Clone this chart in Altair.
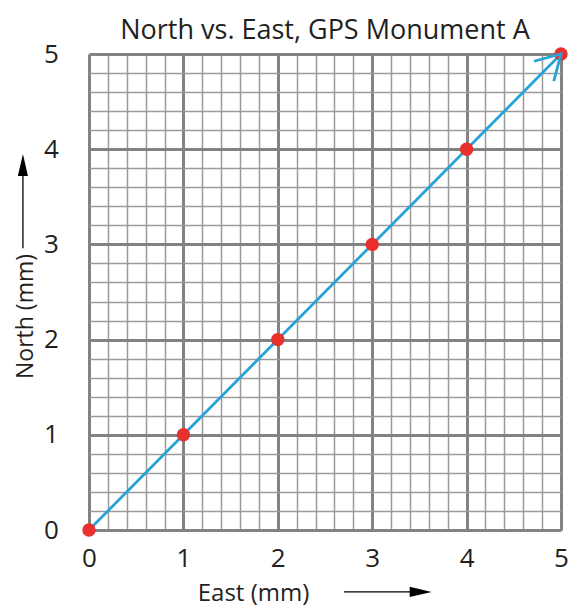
import altair as alt
import pandas as pd

# data
east = [0, 1, 2, 3, 4, 5]
north = [0, 1, 2, 3, 4, 5]

# tick positions (minor every 0.2, major every 1)
tick_values = [round(i * 0.2, 1) for i in range(26)]

# axis-title arrow annotations (in data units, outside the plot)
east_arrow_x = [2.70, 3.63]
east_arrow_y = [-0.65]
north_arrow_x = [-0.70]
north_arrow_y = [2.96, 3.95]

FONT = "Open Sans"
TXT = "#231f20"
is_int = "abs(datum.value - round(datum.value)) < 0.001"

grid_w = {"condition": {"test": is_int, "value": 3}, "value": 1.5}
grid_c = {"condition": {"test": is_int, "value": "#828282"}, "value": "#9a9a9a"}

xscale = alt.Scale(domain=[0, 5], nice=False, zero=False)
yscale = alt.Scale(domain=[0, 5], nice=False, zero=False)

xaxis = alt.Axis(
    values=tick_values, grid=True, gridWidth=grid_w, gridColor=grid_c, gridOpacity=1,
    ticks=False, domain=False,
    labelExpr=f"{is_int} ? format(datum.value, 'd') : ''",
    labelFont=FONT, labelFontSize=26, labelColor=TXT,
    labelBaseline="alphabetic", labelPadding=36, labelFlush=False, labelOverlap=False,
    title="East (mm)", titleFont=FONT, titleFontSize=24, titleFontWeight="normal",
    titleColor=TXT, titleX=164, titleY=70, titleBaseline="alphabetic", titleAlign="center",
)
yaxis = alt.Axis(
    values=tick_values, grid=True, gridWidth=grid_w, gridColor=grid_c, gridOpacity=1,
    ticks=False, domain=False,
    labelExpr=f"{is_int} ? format(datum.value, 'd') : ''",
    labelFont=FONT, labelFontSize=26, labelColor=TXT,
    labelAlign="center", labelBaseline="middle", labelPadding=38,
    labelFlush=False, labelOverlap=False,
    title="North (mm)", titleFont=FONT, titleFontSize=23, titleFontWeight="normal",
    titleColor=TXT, titleX=-57, titleY=262, titleAngle=-90,
    titleBaseline="alphabetic", titleAlign="center",
)

X = alt.X("east:Q", scale=xscale, axis=xaxis)
Y = alt.Y("north:Q", scale=yscale, axis=yaxis)

df = pd.DataFrame({"east": east, "north": north})

points = alt.Chart(df).mark_circle(size=180, color="#e8312f", opacity=1).encode(x=X, y=Y)
line = alt.Chart(df).mark_line(color="#27a3d9", strokeWidth=2.8).encode(x=X, y=Y)

head_df = pd.DataFrame({"east": [east[-1]], "north": [north[-1]]})
head = alt.Chart(head_df).mark_point(
    shape="M-0.5,0.866L0,0L0.5,0.866", size=3136, angle=45,
    filled=False, stroke="#27a3d9", strokeWidth=2.8, opacity=1,
).encode(x=X, y=Y)

# East arrow
ea_df = pd.DataFrame({"east": [east_arrow_x[0]], "east2": [east_arrow_x[1] - 0.15], "north": east_arrow_y})
ea_rule = alt.Chart(ea_df).mark_rule(color="black", strokeWidth=1.3).encode(x=X, x2="east2:Q", y=Y)
ea_head_df = pd.DataFrame({"east": [east_arrow_x[1]], "north": east_arrow_y})
ea_head = alt.Chart(ea_head_df).mark_point(
    shape="M0,0L-1,-0.23L-1,0.23Z", size=1936, filled=True, color="black", opacity=1,
    strokeWidth=0,
).encode(x=X, y=Y)

# North arrow
na_df = pd.DataFrame({"east": north_arrow_x, "north": [north_arrow_y[0]], "north2": [north_arrow_y[1] - 0.15]})
na_rule = alt.Chart(na_df).mark_rule(color="black", strokeWidth=1.3).encode(x=X, y=Y, y2="north2:Q")
na_head_df = pd.DataFrame({"east": north_arrow_x, "north": [north_arrow_y[1]]})
na_head = alt.Chart(na_head_df).mark_point(
    shape="M0,0L-0.23,1L0.23,1Z", size=1936, filled=True, color="black", opacity=1,
    strokeWidth=0,
).encode(x=X, y=Y)

chart = alt.layer(line, points, head, ea_rule, ea_head, na_rule, na_head).properties(
    width=472, height=476,
    title=alt.TitleParams(
        "North vs. East, GPS Monument A", font=FONT, fontSize=27, fontWeight="normal",
        color=TXT, anchor="middle", baseline="alphabetic", offset=-25,
    ),
    autosize=alt.AutoSizeParams(type="none"),
    padding={"left": 81, "top": 46, "right": 8, "bottom": 76},
).configure_view(strokeWidth=0).configure(background="white")

chart.save("out.html", embed_options={"renderer": "svg", "actions": False})
